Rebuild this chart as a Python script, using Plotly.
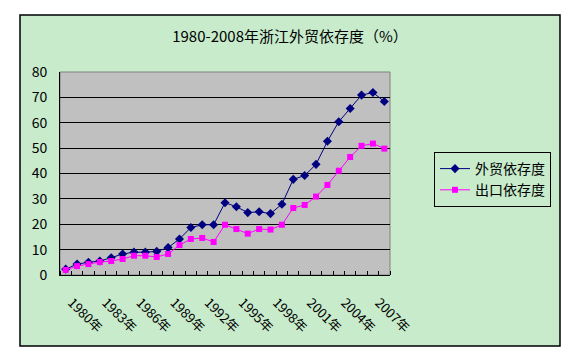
import plotly.graph_objects as go

years = list(range(1980, 2009))
trade_dep = [2.3, 4.3, 5.0, 5.5, 6.8, 8.3, 9.0, 9.0, 9.3, 10.8,
             14.2, 18.7, 19.8, 19.8, 28.5, 26.9, 24.6, 24.9, 24.2, 27.9,
             37.7, 39.2, 43.6, 52.7, 60.4, 65.6, 70.9, 71.9, 68.4]
export_dep = [2.0, 3.5, 4.3, 5.1, 5.5, 6.3, 7.6, 7.6, 7.1, 8.3,
              11.8, 14.2, 14.6, 13.0, 19.8, 18.1, 16.3, 18.1, 17.9, 19.8,
              26.4, 27.6, 30.9, 35.5, 41.1, 46.5, 50.9, 51.8, 49.8]
label_years = list(range(1980, 2009, 3))
label_text = [f"{y}年" for y in label_years]

title_text = "1980-2008年浙江外贸依存度（%）"
name_trade = "外贸依存度"
name_export = "出口依存度"

FONT = "Noto Sans CJK SC"
GREEN = "#C7EBCB"

fig = go.Figure()
fig.add_trace(go.Scatter(x=years, y=trade_dep, name=name_trade, mode="lines+markers",
                         line=dict(color="#000080", width=1),
                         marker=dict(symbol="diamond", size=7, color="#000080")))
fig.add_trace(go.Scatter(x=years, y=export_dep, name=name_export, mode="lines+markers",
                         line=dict(color="#FF00FF", width=1),
                         marker=dict(symbol="square", size=6, color="#FF00FF")))

# page has an 8px body margin, so figure coordinates are page coordinates - 8
OFF = 8
W, H = 588 - OFF, 362 - OFF
L, R, T, B = 60 - OFF, 390 - OFF, 72 - OFF, 275 - OFF
pw, ph = R - L, B - T

def px(x):
    return (x - OFF - L) / pw

def py(y):
    return (B - (y - OFF)) / ph

shapes = [
    dict(type="rect", xref="paper", yref="paper", layer="below",
         x0=px(20), x1=px(560), y0=py(346), y1=py(15),
         fillcolor=GREEN, line=dict(color="black", width=1.5)),
    dict(type="rect", xref="paper", yref="paper", layer="below",
         x0=0, x1=1, y0=0, y1=1,
         fillcolor="#C0C0C0", line=dict(color="#808080", width=1)),
]

fig.update_layout(
    width=W, height=H,
    margin=dict(l=L, r=W - R, t=T, b=H - B),
    paper_bgcolor="white",
    plot_bgcolor="rgba(0,0,0,0)",
    font=dict(family=FONT, size=13, color="black"),
    shapes=shapes,
    title=dict(text=title_text, x=(290 - OFF) / W, xanchor="center",
               y=1 - (37 - OFF) / H, yanchor="middle",
               yref="container", xref="container",
               font=dict(family=FONT, size=15, color="black")),
    showlegend=True,
    legend=dict(x=px(434), y=py(152), xanchor="left", yanchor="top",
                bgcolor=GREEN, bordercolor="black", borderwidth=1,
                font=dict(family=FONT, size=14, color="black"),
                tracegroupgap=0, itemwidth=30),
    xaxis=dict(range=[1979.5, 2008.5], tickvals=label_years, ticktext=label_text,
               tickangle=45, ticks="", showgrid=False, zeroline=False,
               showline=True, linecolor="black", linewidth=1,
               ticklabelstandoff=14, ticklabelshift=6,
               minor=dict(tick0=1979.5, dtick=1, ticks="inside", ticklen=4,
                          tickcolor="black", showgrid=False),
               tickfont=dict(family=FONT, size=13)),
    yaxis=dict(range=[0, 80], dtick=10, ticks="", showgrid=True, gridcolor="black",
               gridwidth=1, zeroline=False, showline=True, linecolor="black",
               linewidth=1, ticklabelstandoff=9,
               tickfont=dict(family=FONT, size=14)),
)

fig.write_html("out.html")
